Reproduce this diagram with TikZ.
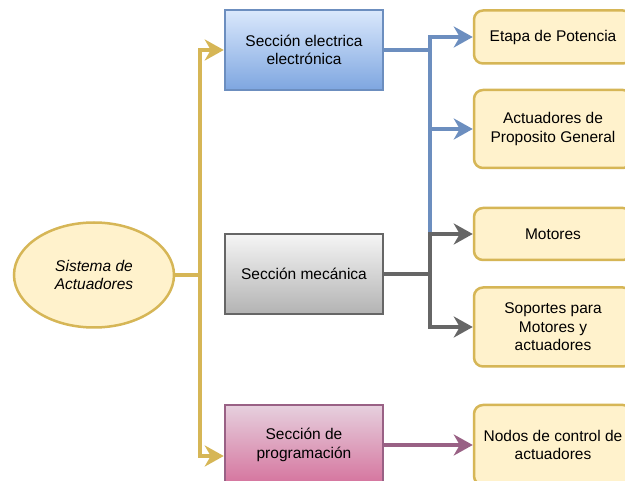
\documentclass[tikz,border=0pt]{standalone}
\usepackage{fontspec}
\setmainfont{Liberation Sans}
\usetikzlibrary{arrows.meta,shapes.geometric}
\definecolor{goldline}{HTML}{D6B656}
\definecolor{goldfill}{HTML}{FFF2CC}
\definecolor{blueline}{HTML}{6C8EBF}
\definecolor{bluetop}{HTML}{DAE8FC}
\definecolor{bluebot}{HTML}{7EA6E0}
\definecolor{grayline}{HTML}{666666}
\definecolor{graytop}{HTML}{F5F5F5}
\definecolor{graybot}{HTML}{B3B3B3}
\definecolor{pinkline}{HTML}{996185}
\definecolor{pinktop}{HTML}{E6D0DE}
\definecolor{pinkbot}{HTML}{D5739D}
\begin{document}
\begin{tikzpicture}[x=1pt,y=-1pt,
  every node/.style={font=\fontsize{15.5}{18.5}\selectfont, align=center, inner sep=0pt},
  sect/.style={draw, line width=2.5pt, minimum width=158pt, minimum height=80pt},
  leaf/.style={draw=goldline, fill=goldfill, line width=2.5pt, rounded corners=9pt, minimum width=158pt},
  con/.style={line width=3.5pt, -{Stealth[length=19pt,width=21pt,inset=6pt]}},
  plain/.style={line width=3.5pt}
]
\clip (0,0) rectangle (625,481);
\fill[white] (0,0) rectangle (625,481);

% root
\node[ellipse, draw=goldline, fill=goldfill, line width=2.5pt, minimum width=160pt, minimum height=105pt, font=\fontsize{15.5}{18.5}\selectfont\itshape] (ell) at (94,275) {Sistema de\\Actuadores};

% sections
\node[sect, draw=blueline, top color=bluetop, bottom color=bluebot] (blue) at (304,50) {Secci\'on electrica\\electr\'onica};
\node[sect, draw=grayline, top color=graytop, bottom color=graybot] (mec) at (304,274) {Secci\'on mec\'anica};
\node[sect, draw=pinkline, top color=pinktop, bottom color=pinkbot] (pink) at (304,445) {Secci\'on de\\programaci\'on};

% leaves
\node[leaf, minimum height=53pt] (etapa) at (553,37) {Etapa de Potencia};
\node[leaf, minimum height=78pt] (act) at (553,129) {Actuadores de\\Proposito General};
\node[leaf, minimum height=52pt] (mot) at (553,234) {Motores};
\node[leaf, minimum height=79pt] (sop) at (553,327) {Soportes para\\Motores y\\actuadores};
\node[leaf, minimum height=80pt] (nodos) at (553,445) {Nodos de control de\\actuadores};

% junctions
\coordinate (jy) at (200,275);
\coordinate (jb) at (430,50);
\coordinate (jg) at (430,274);
\coordinate (pinkin) at ([yshift=-11pt]pink.west);

% gold connectors
\draw[con, goldline] (ell.east) -- (jy) |- (blue.west);
\draw[con, goldline] (jy) |- (pinkin);

% blue connectors
\draw[con, blueline] (blue.east) -- (jb) |- (etapa.west);
\draw[con, blueline] (jb) |- (act.west);
\draw[plain, blueline] (jb) -- (jb |- mot.west);

% gray connectors
\draw[con, grayline] (mec.east) -- (jg) |- (mot.west);
\draw[con, grayline] (jg) |- (sop.west);

% pink connector
\draw[con, pinkline] (pink.east) -- (nodos.west);
\end{tikzpicture}
\end{document}
